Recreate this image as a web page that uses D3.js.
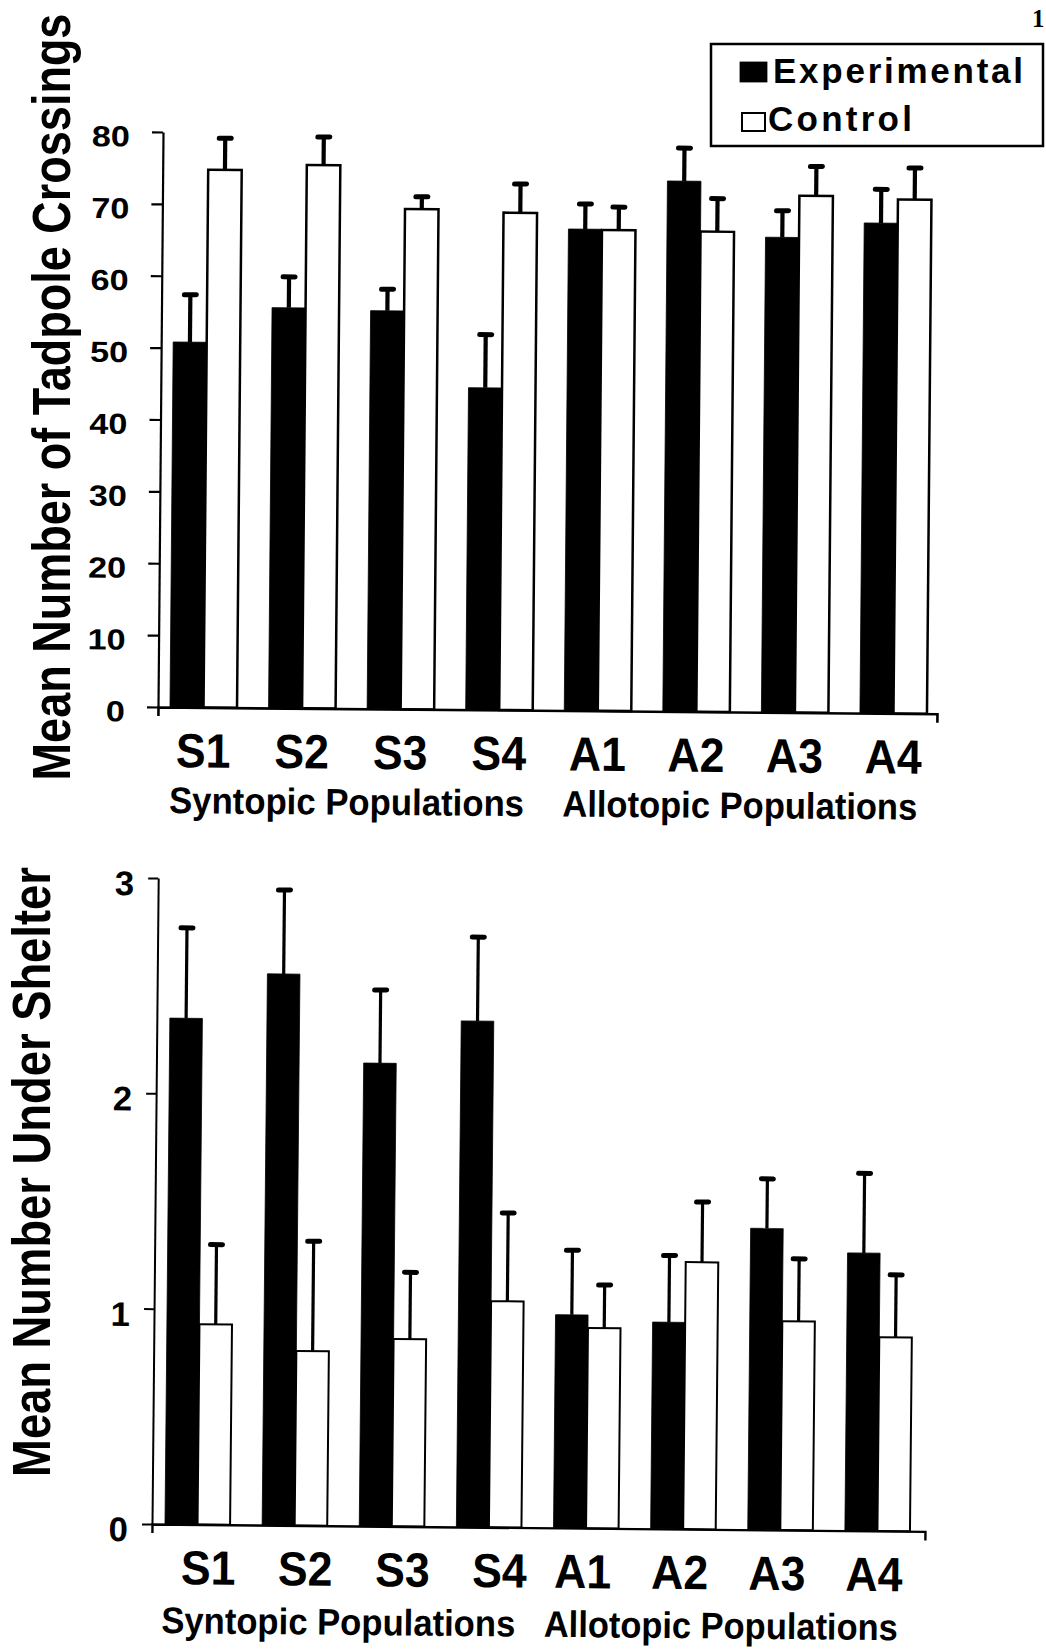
<!DOCTYPE html>
<html>
<head>
<meta charset="utf-8">
<script src="https://cdn.jsdelivr.net/npm/d3@7"></script>
<style>
  html, body { margin: 0; padding: 0; background: #fff; }
  svg { display: block; }
  text { font-family: "Liberation Sans", Arial, Helvetica, sans-serif; font-weight: bold; fill: #000; }
</style>
</head>
<body>
<svg id="fig" width="1046" height="1652"></svg>
<script>
// ---- data ----
const categories = ["S1", "S2", "S3", "S4", "A1", "A2", "A3", "A4"];
const populationGroups = ["Syntopic Populations", "Allotopic Populations"];
const seriesNames = ["Experimental", "Control"];

// Mean number of tadpole crossings (+1 SE)
const crossingsExp   = [50.8, 55.7, 55.4, 44.8, 67.0, 73.8, 66.1, 68.2];
const crossingsExpSE = [6.6, 4.3, 3.0, 7.4, 3.5, 4.6, 3.7, 4.7];
const crossingsCtl   = [74.8, 75.6, 69.6, 69.2, 66.9, 66.8, 71.9, 71.5];
const crossingsCtlSE = [4.4, 3.9, 1.7, 4.0, 3.2, 4.6, 4.1, 4.4];

// Mean number under shelter (+1 SE)
const shelterExp   = [2.35, 2.56, 2.15, 2.35, 0.99, 0.96, 1.40, 1.29];
const shelterExpSE = [0.42, 0.39, 0.34, 0.39, 0.30, 0.31, 0.23, 0.37];
const shelterCtl   = [0.93, 0.81, 0.87, 1.05, 0.93, 1.24, 0.97, 0.90];
const shelterCtlSE = [0.37, 0.51, 0.31, 0.41, 0.20, 0.28, 0.29, 0.29];

const crossingsTicks = [0, 10, 20, 30, 40, 50, 60, 70, 80];
const shelterTicks = [0, 1, 2, 3];
const yTitles = ["Mean Number of Tadpole Crossings", "Mean Number Under Shelter"];

// ---- layout ----
const svg = d3.select("#fig");

function squeeze(sel, k) {
  sel.each(function () {
    const w = this.getComputedTextLength();
    d3.select(this).attr("textLength", w * k).attr("lengthAdjust", "spacingAndGlyphs");
  });
}

const panels = [
  {
    exp: crossingsExp, expSE: crossingsExpSE, ctl: crossingsCtl, ctlSE: crossingsCtlSE,
    domain: [0, 80], ticks: crossingsTicks, title: yTitles[0],
    x0: 158, y0: 707, yTop: 132, xRange: [170, 927], xEnd: 937, padInner: 0.32, tilt: 0.5,
    tickSize: 11, tickPad: 22, tickFont: 29, tickStretch: 1.18, tickDy: 5,
    axisWidth: 2.2, outline: 2.5, stemWidth: 4.2, capHalf: 6, capWidth: 5,
    catBase: 60, catFont: 48, catSqueeze: 0.93, catShift: [0, 0],
    grpBase: 106, grpFont: 37, grpLen: 355, grpShift: [-4, -5],
    titleX: 70, titleY: 397, titleFont: 53, titleLen: 767
  },
  {
    exp: shelterExp, expSE: shelterExpSE, ctl: shelterCtl, ctlSE: shelterCtlSE,
    domain: [0, 3], ticks: shelterTicks, title: yTitles[1],
    x0: 152, y0: 1524, yTop: 878, xRange: [165, 910], xEnd: 925, padInner: 0.33, tilt: 0.55,
    tickSize: 10, tickPad: 14, tickFont: 34, tickStretch: 1.02, tickDy: 6,
    axisWidth: 2, outline: 2, stemWidth: 3.2, capHalf: 6, capWidth: 5,
    catBase: 60, catFont: 48, catSqueeze: 0.93, catShift: [11, -3],
    grpBase: 109, grpFont: 37, grpLen: 354, grpShift: [-4, -10],
    titleX: 50, titleY: 1172, titleFont: 53, titleLen: 610
  }
];

function drawPanel(p) {
  const g = svg.append("g").attr("transform", `rotate(${p.tilt} ${p.x0} ${p.y0})`);

  const y = d3.scaleLinear().domain(p.domain).range([p.y0, p.yTop]);
  const x = d3.scaleBand().domain(categories).range(p.xRange).paddingInner(p.padInner).paddingOuter(0);
  const xs = d3.scaleBand().domain(seriesNames).range([0, x.bandwidth()]);

  const rows = categories.map((c, i) => ({
    c,
    items: [
      { s: "Experimental", v: p.exp[i], e: p.expSE[i] },
      { s: "Control", v: p.ctl[i], e: p.ctlSE[i] }
    ]
  }));

  const grp = g.selectAll("g.cat").data(rows).join("g")
    .attr("class", "cat")
    .attr("transform", d => `translate(${x(d.c)},0)`);

  // bars
  grp.selectAll("rect").data(d => d.items).join("rect")
    .attr("x", d => xs(d.s))
    .attr("y", d => y(d.v))
    .attr("width", xs.bandwidth())
    .attr("height", d => y(0) - y(d.v))
    .attr("fill", d => d.s === "Experimental" ? "#000" : "#fff")
    .attr("stroke", "#000")
    .attr("stroke-width", d => d.s === "Experimental" ? 0.8 : p.outline);

  // upper error bars: stem + cap
  grp.selectAll("line.stem").data(d => d.items).join("line")
    .attr("class", "stem")
    .attr("x1", d => xs(d.s) + xs.bandwidth() / 2)
    .attr("x2", d => xs(d.s) + xs.bandwidth() / 2)
    .attr("y1", d => y(d.v))
    .attr("y2", d => y(d.v + d.e))
    .attr("stroke", "#000")
    .attr("stroke-width", p.stemWidth);

  grp.selectAll("line.cap").data(d => d.items).join("line")
    .attr("class", "cap")
    .attr("x1", d => xs(d.s) + xs.bandwidth() / 2 - p.capHalf)
    .attr("x2", d => xs(d.s) + xs.bandwidth() / 2 + p.capHalf)
    .attr("y1", d => y(d.v + d.e))
    .attr("y2", d => y(d.v + d.e))
    .attr("stroke", "#000")
    .attr("stroke-width", p.capWidth)
    .attr("stroke-linecap", "round");

  // y axis
  const ya = g.append("g")
    .attr("transform", `translate(${p.x0},0)`)
    .call(d3.axisLeft(y).tickValues(p.ticks).tickSize(p.tickSize).tickSizeOuter(0).tickPadding(p.tickPad).tickFormat(d3.format("d")));
  ya.attr("font-size", null).attr("font-family", null);
  ya.selectAll("path, line").attr("stroke", "#000").attr("stroke-width", p.axisWidth);
  ya.selectAll("text")
    .attr("y", p.tickDy)
    .style("font-size", p.tickFont + "px")
    .call(squeeze, p.tickStretch);

  // x axis baseline with short end ticks
  const xLine = d3.scaleLinear().domain([0, 1]).range([p.x0, p.xEnd]);
  const xa = g.append("g")
    .attr("transform", `translate(0,${p.y0})`)
    .call(d3.axisBottom(xLine).tickValues([]).tickSizeOuter(9));
  xa.select("path").attr("stroke", "#000").attr("stroke-width", p.axisWidth + 0.4).attr("fill", "none");

  // category labels
  g.selectAll("text.catlab").data(categories).join("text")
    .attr("class", "catlab")
    .attr("x", (d, i) => x(d) + x.bandwidth() / 2 + p.catShift[i < 4 ? 0 : 1])
    .attr("y", p.y0 + p.catBase)
    .attr("text-anchor", "middle")
    .style("font-size", p.catFont + "px")
    .text(d => d)
    .call(squeeze, p.catSqueeze);

  // population group labels
  const groupCentres = [
    (x(categories[0]) + x(categories[3]) + x.bandwidth()) / 2,
    (x(categories[4]) + x(categories[7]) + x.bandwidth()) / 2
  ];
  g.selectAll("text.grplab").data(populationGroups).join("text")
    .attr("class", "grplab")
    .attr("x", (d, i) => groupCentres[i] + p.grpShift[i])
    .attr("y", p.y0 + p.grpBase)
    .attr("text-anchor", "middle")
    .attr("textLength", p.grpLen)
    .attr("lengthAdjust", "spacingAndGlyphs")
    .style("font-size", p.grpFont + "px")
    .text(d => d);

  // y-axis title, condensed along its reading direction to the target length
  const title = svg.append("text")
    .attr("text-anchor", "middle")
    .style("font-size", p.titleFont + "px")
    .text(p.title);
  const k = p.titleLen / title.node().getComputedTextLength();
  title.attr("transform", `translate(${p.titleX},${p.titleY}) rotate(-90) scale(${k},1)`);

  return { x, xs, y };
}

panels.forEach(drawPanel);

// legend for the upper panel
const legend = svg.append("g").attr("class", "legend");
legend.append("rect")
  .attr("x", 711).attr("y", 44).attr("width", 332).attr("height", 102)
  .attr("fill", "#fff").attr("stroke", "#000").attr("stroke-width", 2.5);

const legendRows = legend.selectAll("g.item").data(seriesNames).join("g").attr("class", "item");
const legendSwatch = [
  { x: 740, y: 62, w: 27, h: 20 },
  { x: 742, y: 113, w: 23, h: 18 }
];
const legendText = [
  { x: 773, y: 83, len: 250 },
  { x: 768, y: 131, len: 144 }
];
legendRows.append("rect")
  .attr("x", (d, i) => legendSwatch[i].x)
  .attr("y", (d, i) => legendSwatch[i].y)
  .attr("width", (d, i) => legendSwatch[i].w)
  .attr("height", (d, i) => legendSwatch[i].h)
  .attr("fill", d => d === "Experimental" ? "#000" : "#fff")
  .attr("stroke", "#000")
  .attr("stroke-width", d => d === "Experimental" ? 0.8 : 2);
legendRows.append("text")
  .attr("x", (d, i) => legendText[i].x)
  .attr("y", (d, i) => legendText[i].y)
  .attr("textLength", (d, i) => legendText[i].len)
  .attr("lengthAdjust", "spacing")
  .style("font-size", "35px")
  .text(d => d);

// page number at the top-right corner
svg.append("text")
  .attr("x", 1032).attr("y", 27)
  .style("font-family", "'Liberation Serif', 'Times New Roman', serif")
  .style("font-size", "25px")
  .text("1");
</script>
</body>
</html>
